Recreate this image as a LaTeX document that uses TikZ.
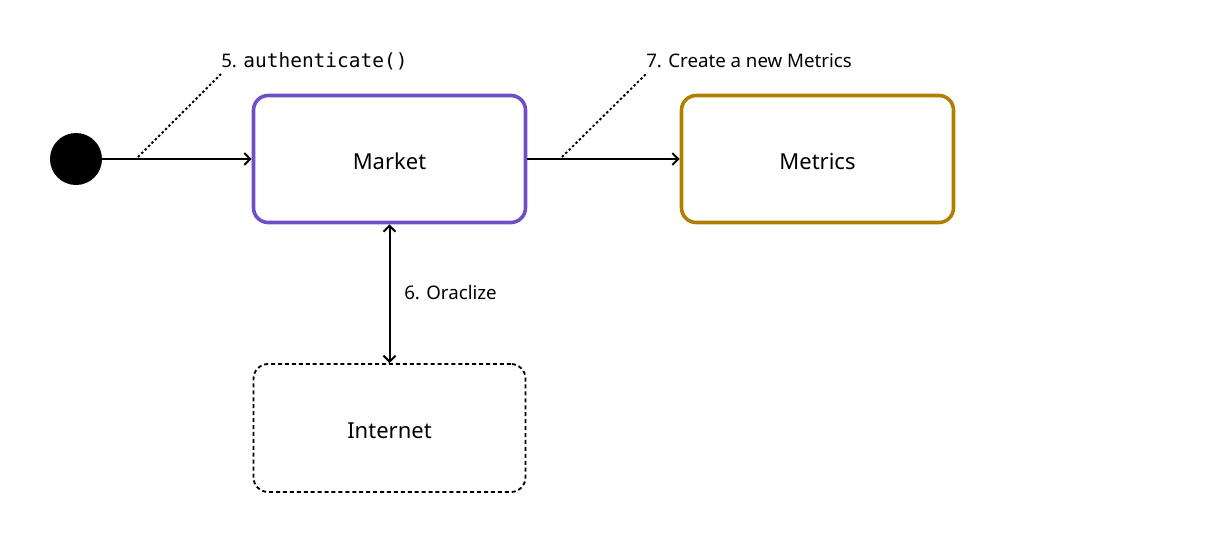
\documentclass[tikz,border=0pt]{standalone}
\usepackage{fontspec}
\setmainfont{Noto Sans}
\setmonofont{DejaVu Sans Mono}
\usetikzlibrary{arrows.meta}
\definecolor{marketc}{HTML}{6F4FC8}
\definecolor{metricsc}{HTML}{B07F00}
\begin{document}
\begin{tikzpicture}[x=0.75pt,y=-0.75pt,
  statebox/.style={rounded corners=11pt, minimum width=204pt, minimum height=95.25pt, inner sep=0pt},
  boxlabel/.style={label={[font=\fontsize{16.5}{20}\selectfont, yshift=-1.9pt]center:#1}},
  conn/.style={line width=1.5pt, -{Straight Barb[length=4.5pt,width=9pt,line width=1.5pt]}},
  leader/.style={line width=1.4pt, dash pattern=on 1.8pt off 1.8pt},
  lbl/.style={anchor=west, inner sep=0pt, font=\fontsize{14}{17}\selectfont}]
\useasboundingbox (0,0) rectangle (1206,544);
\node[circle, fill=black, minimum size=39pt, inner sep=0pt] (start) at (76,159) {};
\node[statebox, draw=marketc, line width=2.7pt, boxlabel=Market] (market) at (389.5,159) {};
\node[statebox, draw=metricsc, line width=2.7pt, boxlabel=Metrics] (metrics) at (817.5,159) {};
\node[statebox, draw=black, line width=1.4pt, dash pattern=on 3pt off 2.2pt, minimum height=96pt, boxlabel=Internet] (internet) at (389.5,428) {};
\draw[conn] (start.east) -- (market.west);
\draw[conn] (market.east) -- (metrics.west);
\draw[conn, {Straight Barb[length=4.5pt,width=9pt,line width=1.5pt]}-{Straight Barb[length=4.5pt,width=9pt,line width=1.5pt]}] (market.south) -- (internet.north);
\coordinate (l5a) at (138,157);
\coordinate (l5b) at (221,74);
\coordinate (l7a) at (562,157);
\coordinate (l7b) at (646,74);
\draw[leader] (l5a) -- (l5b);
\draw[leader] (l7a) -- (l7b);
\node[lbl] (lab5) at (221,61) {5. {\ttfamily\fontsize{14.6}{17}\selectfont authenticate()}};
\node[lbl] (lab7) at (646,61) {7. Create a new Metrics};
\node[lbl] (lab6) at (404,293) {6. Oraclize};
\end{tikzpicture}
\end{document}
